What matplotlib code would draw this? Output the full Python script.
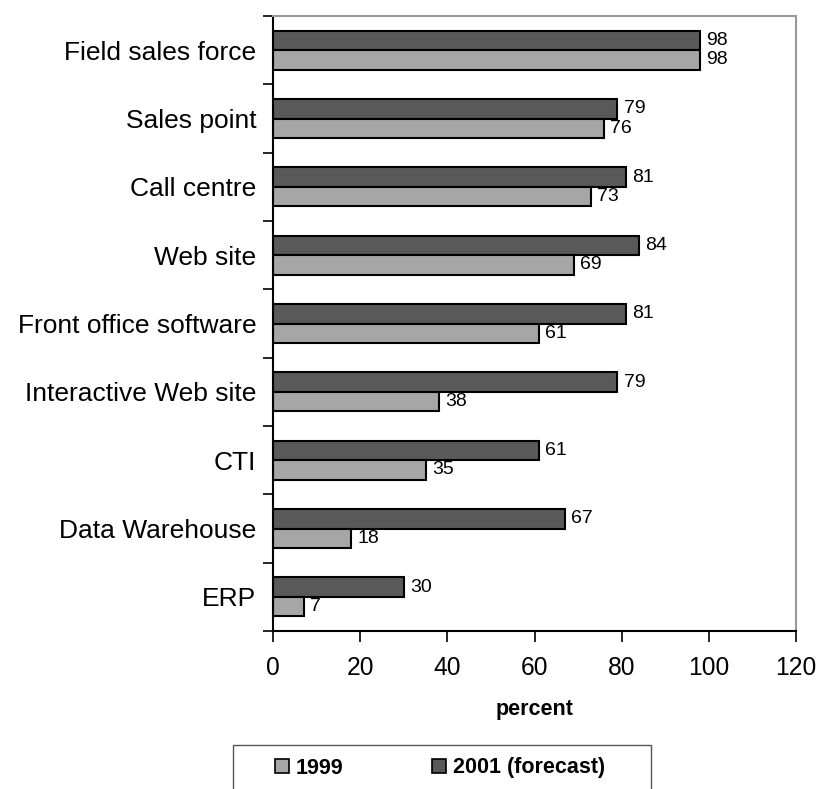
import matplotlib
matplotlib.use("Agg")
import matplotlib.pyplot as plt
import numpy as np
from matplotlib.patches import Patch, Rectangle

plt.rcParams['font.family'] = ['Liberation Sans', 'DejaVu Sans']

categories = ["Field sales force", "Sales point", "Call centre", "Web site",
              "Front office software", "Interactive Web site", "CTI",
              "Data Warehouse", "ERP"]
values_1999 = [98, 76, 73, 69, 61, 38, 35, 18, 7]
values_2001 = [98, 79, 81, 84, 81, 79, 61, 67, 30]
series_names = ["1999", "2001 (forecast)"]
xticks = [0, 20, 40, 60, 80, 100, 120]

W, H = 822, 789
fig = plt.figure(figsize=(W / 100, H / 100), dpi=100)
ax = fig.add_axes([273 / W, 1 - 631 / H, (796 - 273) / W, (631 - 16) / H])

n = len(categories)
pos = np.arange(n)[::-1].astype(float)
bh = 0.285
light, dark = "#a6a6a6", "#595959"

b_dark = ax.barh(pos + bh / 2, values_2001, height=bh, color=dark,
                 edgecolor="black", linewidth=1.5)
b_light = ax.barh(pos - bh / 2, values_1999, height=bh, color=light,
                  edgecolor="black", linewidth=1.5)

for bars, vals in ((b_dark, values_2001), (b_light, values_1999)):
    for rect, v in zip(bars, vals):
        ax.annotate(str(v), (v, rect.get_y() + rect.get_height() / 2),
                    xytext=(4.5, 0), textcoords="offset points",
                    va="center", ha="left", fontsize=14)

ax.set_xlim(0, 120)
ax.set_ylim(-0.5, n - 0.5)
ax.set_xticks(xticks)
ax.set_xticklabels([str(t) for t in xticks], fontsize=17.7)
ax.set_yticks(pos)
ax.set_yticklabels(categories, fontsize=19)
ax.set_yticks(np.arange(n + 1) - 0.5, minor=True)
ax.tick_params(axis="y", which="major", length=0, pad=12)
ax.tick_params(axis="y", which="minor", length=7, width=1.2, direction="out")
ax.tick_params(axis="x", which="major", length=8, width=1.2, direction="out", pad=10)

for side in ("left", "bottom"):
    ax.spines[side].set_color("black")
    ax.spines[side].set_linewidth(1.5)
for side in ("top", "right"):
    ax.spines[side].set_color("#999999")
    ax.spines[side].set_linewidth(1.5)

ax.set_xlabel("percent", fontsize=15.5, fontweight="bold", labelpad=14)

# legend box, running off the bottom edge of the figure
fig.add_artist(Rectangle((233 / W, -0.05), (651 - 233) / W, 0.05 + (H - 745) / H,
                         transform=fig.transFigure, facecolor="white",
                         edgecolor="#555555", linewidth=1.0, clip_on=False))

handles = [Patch(facecolor=light, edgecolor="black", linewidth=1.2),
           Patch(facecolor=dark, edgecolor="black", linewidth=1.2)]
leg = fig.legend(handles, series_names, loc="center left",
                 bbox_to_anchor=(275 / W, 1 - 768 / H), ncol=2,
                 prop={"weight": "bold", "size": 15.5}, frameon=False,
                 handlelength=0.65, handleheight=0.65,
                 handletextpad=0.33, columnspacing=4.1, borderpad=0,
                 borderaxespad=0)

fig.savefig("out.png", dpi=100)
